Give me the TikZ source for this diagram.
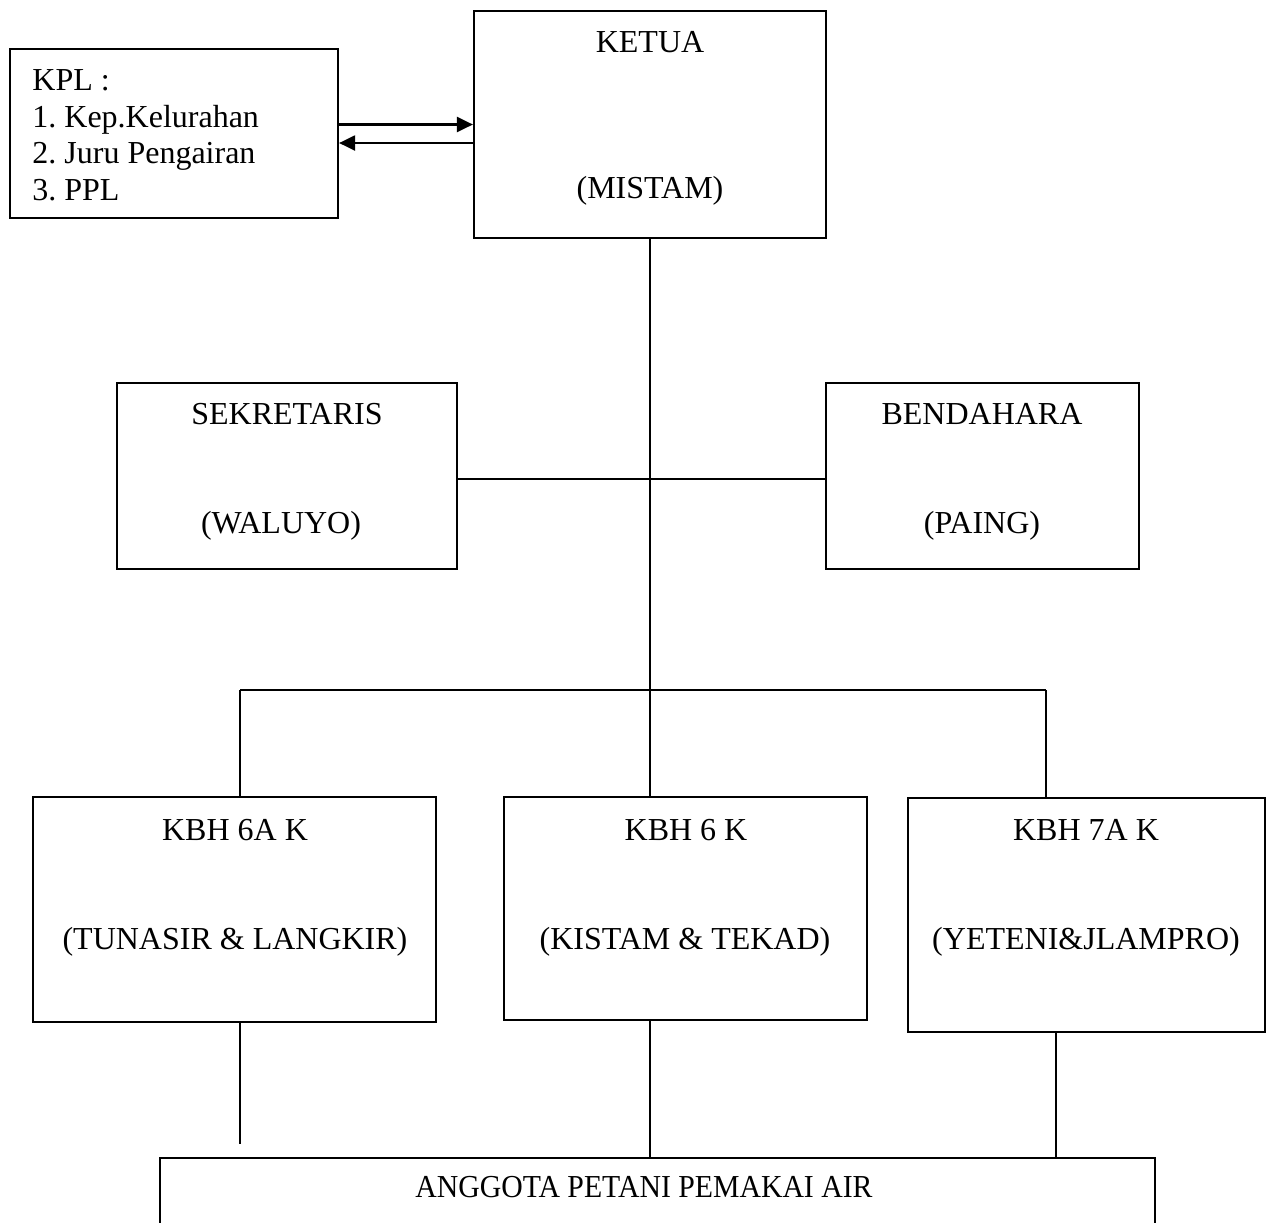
\documentclass[tikz,border=0pt]{standalone}
\usepackage{fontspec}
\setmainfont{Liberation Serif}
\usetikzlibrary{arrows.meta}
\frenchspacing
\begin{document}
\begin{tikzpicture}[x=0.5pt,y=-0.5pt,
  box/.style={draw=black,line width=1.1pt,rectangle,inner sep=0pt},
  lbl/.style={anchor=base,inner sep=0pt,font=\fontsize{16}{19}\selectfont},
  lbll/.style={anchor=base west,inner sep=0pt,font=\fontsize{16}{19}\selectfont},
  conn/.style={line width=1.1pt},
  arr/.style={line width=1.1pt,-{Triangle[length=8pt,width=7.5pt]}}]
\useasboundingbox (0,0) rectangle (1268,1222);
% boxes
\node[box,minimum width=164pt,minimum height=84.5pt] (kpl) at (174,133.5) {};
\node[box,minimum width=176pt,minimum height=113.5pt] (ketua) at (650,124.5) {};
\node[box,minimum width=170pt,minimum height=93pt] (sek) at (287,476) {};
\node[box,minimum width=156.5pt,minimum height=93pt] (bend) at (982.5,476) {};
\node[box,minimum width=201.5pt,minimum height=112.5pt] (kbha) at (234.5,909.5) {};
\node[box,minimum width=181.5pt,minimum height=111.5pt] (kbhb) at (685.5,908.5) {};
\node[box,minimum width=178.5pt,minimum height=117pt] (kbhc) at (1086.5,915) {};
\node[box,minimum width=497.5pt,minimum height=60pt] (angg) at (657.5,1218) {};
% texts
\node[lbll] (t1) at (32,90) {KPL :};
\node[lbll] (t2) at (32,127) {1. Kep.Kelurahan};
\node[lbll] (t3) at (32,163) {2. Juru Pengairan};
\node[lbll] (t4) at (32,200) {3. PPL};
\node[lbl] (k1) at (650,52) {KETUA};
\node[lbl] (k2) at (650,198) {(MISTAM)};
\node[lbl] (s1) at (287,424) {SEKRETARIS};
\node[lbl] (s2) at (281,533) {(WALUYO)};
\node[lbl] (b1) at (982,424) {BENDAHARA};
\node[lbl] (b2) at (982,533) {(PAING)};
\node[lbl] (a1) at (235,840) {KBH 6A K};
\node[lbl] (a2) at (235,949) {(TUNASIR \& LANGKIR)};
\node[lbl] (c1) at (686,840) {KBH 6 K};
\node[lbl] (c2) at (685,949) {(KISTAM \& TEKAD)};
\node[lbl] (d1) at (1086,840) {KBH 7A K};
\node[lbl] (d2) at (1086,949) {(YETENI\&JLAMPRO)};
\node[lbl] (g1) at (644,1197) {\scalebox{0.93}[1]{ANGGOTA PETANI PEMAKAI AIR}};
% coordinates
\coordinate (ar2) at (474,143);
\coordinate (mid) at (650,479);
\coordinate (jn) at (650,690);
\coordinate (jl) at (240,690);
\coordinate (jr) at (1046,690);
\coordinate (ea) at (240,1144);
\coordinate (ec) at (1056,1032);
% connectors
\draw[arr] (kpl.east |- ketua.west) -- (ketua.west);
\draw[arr] (ar2) -- (kpl.east |- ar2);
\draw[conn] (ketua.south -| jn) -- (jn);
\draw[conn] (sek.east |- mid) -- (bend.west |- mid);
\draw[conn] (jl) -- (jr);
\draw[conn] (jl) -- (jl |- kbha.north);
\draw[conn] (jn) -- (jn |- kbhb.north);
\draw[conn] (jr) -- (jr |- kbhc.north);
\draw[conn] (kbha.south -| ea) -- (ea);
\draw[conn] (kbhb.south -| jn) -- (jn |- angg.north);
\draw[conn] (ec) -- (ec |- angg.north);
\end{tikzpicture}
\end{document}
